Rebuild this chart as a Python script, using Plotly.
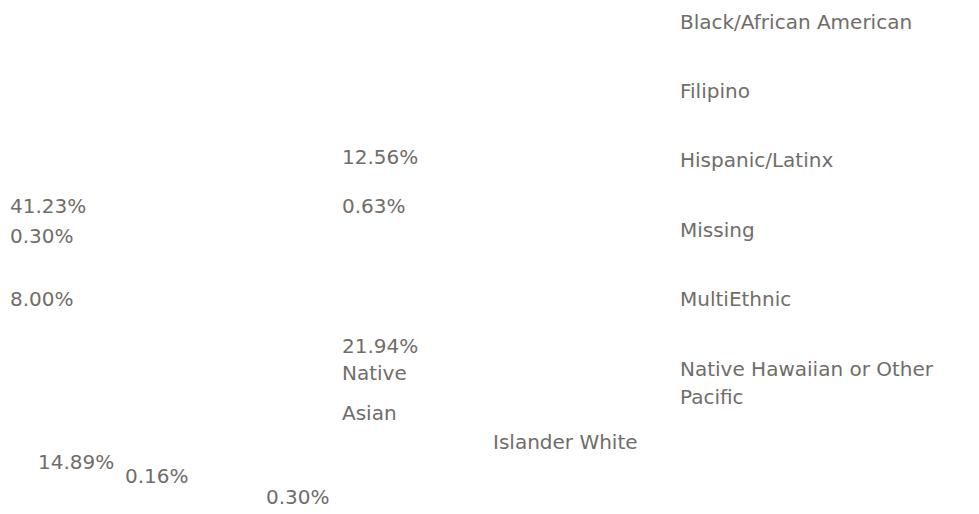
import plotly.graph_objects as go

# ---- data ----
categories = [
    "American Indian or Alaska Native",
    "Asian",
    "Black/African American",
    "Filipino",
    "Hispanic/Latinx",
    "Missing",
    "MultiEthnic",
    "Native Hawaiian or Other Pacific Islander",
    "White",
]
percentages = [0.30, 12.56, 8.00, 0.63, 21.94, 0.30, 14.89, 0.16, 41.23]

# ---- layout (pixel positions of the rendered labels, left x / middle y) ----
W, H = 979, 514
PAD = 2  # annotation box padding in px
pct_pos = {
    "White": (10, 206),
    "Missing": (10, 236),
    "Black/African American": (10, 299),
    "Asian": (342, 157),
    "Filipino": (342, 206),
    "Hispanic/Latinx": (342, 346),
    "MultiEthnic": (38, 462),
    "Native Hawaiian or Other Pacific Islander": (125, 476),
    "American Indian or Alaska Native": (266, 497),
}
legend_frags = [
    ("Black/African American", 680, 22),
    ("Filipino", 680, 91),
    ("Hispanic/Latinx", 680, 160),
    ("Missing", 680, 230),
    ("MultiEthnic", 680, 299),
    ("Native Hawaiian or Other", 680, 369),
    ("Pacific", 680, 397),
    ("Islander White", 493, 442),
    ("Native", 342, 373),
    ("Asian", 342, 413),
]

FONT = "Century Gothic, URW Gothic, DejaVu Sans, sans-serif"
COLOR = "#706d69"
SIZE = 20

fig = go.Figure()
fig.add_trace(go.Pie(
    labels=categories,
    values=percentages,
    marker=dict(colors=["rgba(0,0,0,0)"] * len(categories), line=dict(width=0)),
    textinfo="none",
    hoverinfo="label+percent",
    showlegend=False,
    sort=False,
    domain=dict(x=[0.0, 0.45], y=[0.0, 1.0]),
))


def note(txt, x, y):
    return dict(
        text=txt, x=(x - PAD) / W, y=1 - y / H, xref="paper", yref="paper",
        xanchor="left", yanchor="middle", showarrow=False,
        font=dict(family=FONT, size=SIZE, color=COLOR),
    )


annotations = []
for cat, v in zip(categories, percentages):
    x, y = pct_pos[cat]
    annotations.append(note(f"{v:.2f}%", x, y))
for txt, x, y in legend_frags:
    annotations.append(note(txt, x, y))

fig.update_layout(
    width=W, height=H,
    margin=dict(l=0, r=0, t=0, b=0),
    paper_bgcolor="white",
    plot_bgcolor="white",
    annotations=annotations,
)

fig.write_html("out.html")
